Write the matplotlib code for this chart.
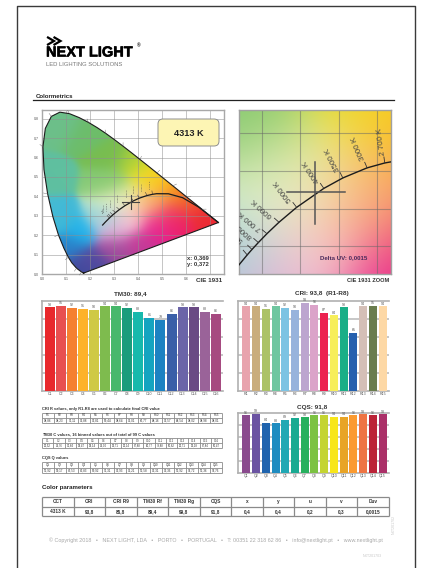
import numpy as np
import matplotlib
matplotlib.use('Agg')
import matplotlib.pyplot as plt
import matplotlib.patheffects as pe
from matplotlib.patches import FancyBboxPatch, Polygon

plt.rcParams['font.family'] = ['Liberation Sans', 'DejaVu Sans']

W, H = 422, 568

# spectral locus and planckian locus read as x, y chromaticity
locus_x = [.1741, .1714, .1644, .1566, .1440, .1241, .1096, .0913, .0687, .0454, .0235, .0082, .0039, .0139,
           .0389, .0743, .1142, .1547, .1929, .2296, .2658, .3016, .3373, .3731, .4087, .4441, .4788, .5125,
           .5448, .5752, .6029, .6270, .6658, .6915, .7079, .7260, .7347]
locus_y = [.0050, .0051, .0109, .0177, .0297, .0578, .0868, .1327, .2007, .2950, .4127, .5384, .6548, .7502,
           .8120, .8338, .8262, .8059, .7816, .7543, .7243, .6923, .6589, .6245, .5896, .5547, .5202, .4866,
           .4544, .4242, .3965, .3725, .3340, .3083, .2920, .2740, .2653]
planck_x = [.7347, .6528, .5857, .5267, .4770, .4599, .4369, .4053, .3805, .3451, .3221, .3064, .2952, .2869, .2807, .2637, .2525]
planck_y = [.2653, .3444, .3931, .4133, .4137, .4106, .4041, .3907, .3768, .3516, .3318, .3166, .3048, .2956, .2884, .2674, .2523]

cct_labels = ['2 700 K', '3000 K', '3500 K', '4000 K', '5000 K', '6000 K', '7 000 K', '8000 K', '9000', '1']
cct_x = [.4599, .4369, .4053, .3805, .3451, .3221, .3064, .2952, .2869, .2807]
cct_y = [.4106, .4041, .3907, .3768, .3516, .3318, .3166, .3048, .2956, .2884]
cct_rot = [98, 113, 117, 124, 127, 138, 140, 138, 135, 130]

point_x, point_y = 0.369, 0.372

# colour field anchors picked off the diagram
anchor_x = [.08, .03, .03, .18, .28, .38, .30, .42, .47, .52, .57, .62, .68, .52, .47, .55, .40, .30, .20, .17,
            .11, .16, .07, .26, .33, .37, .30, .41, .45, .27, .30, .30, .35, .40, .46, .46, .46, .38, .27, .33]
anchor_y = [.76, .50, .30, .72, .60, .57, .47, .52, .49, .44, .40, .36, .30, .32, .24, .28, .17, .14, .06, .02,
            .14, .22, .28, .30, .37, .28, .22, .37, .36, .47, .42, .36, .40, .44, .47, .38, .29, .32, .28, .27]
anchor_c = ['#6cc08a', '#5fc0a0', '#46bcd4', '#6dbd6a', '#78bd50', '#a8cf3c', '#88c860', '#e4e025', '#fbd020',
            '#f8a420', '#f47c24', '#f15030', '#ec2a34', '#f0505c', '#e91e8c', '#ec1e6a', '#c43a98', '#a04a9c',
            '#5a4aa0', '#3a4a9c', '#2a7fc8', '#22b5ec', '#40b8d8', '#a0dcc8', '#f0f2d8', '#f8cfd8', '#e4a8d4',
            '#fbd8a8', '#f9a868', '#82c97a', '#c4e098', '#dcf0d0', '#e8ecb0', '#eee860', '#fcc820', '#f8a060',
            '#ec4a98', '#f9c8b0', '#a8d0e8', '#ecb8d8']

# bar charts
tm30_labels = ['C%d' % i for i in range(1, 17)]
tm30_values = [93, 95, 92, 91, 90, 94, 94, 92, 88, 81, 79, 86, 93, 93, 88, 86]
tm30_colors = ['#e8282c', '#e84f50', '#f58030', '#fdb22a', '#cfc945', '#7ebb4e', '#47b86c', '#1a9c7c', '#17b9ac',
               '#14a4c0', '#1c82c2', '#3a5fa8', '#6b64a8', '#6a4a84', '#9a6399', '#a64a80']

cri_labels = ['R%d' % i for i in range(1, 16)]
cri_values = [94, 94, 91, 94, 92, 90, 98, 96, 87, 84, 93, 65, 94, 95, 94]
cri_colors = ['#e8a3ad', '#c9ad7c', '#acc267', '#6fc6a0', '#7cc3e3', '#97b3dc', '#bca5cf', '#dba3c9', '#ec2150',
              '#f7ee5a', '#1aae87', '#2660ae', '#d4bfb7', '#6a7d4e', '#fdd8a5']

cqs_labels = ['Q%d' % i for i in range(1, 16)]
cqs_values = [96, 99, 84, 83, 89, 92, 93, 96, 96, 94, 94, 96, 98, 96, 98]
cqs_colors = ['#8a4a8e', '#6b54a2', '#2064ae', '#1f8cc0', '#20a8b4', '#1aaa92', '#27b05e', '#7cc242', '#c4d432',
              '#f8e61a', '#e8a426', '#fb9a30', '#ee7444', '#bb2438', '#ab3068']

# small tables
cri_table = ['94,86', '94,23', '91,11', '96,88', '92,81', '89,44', '98,64', '96,01', '86,77', '84,16', '92,57',
             '64,54', '94,02', '94,98', '94,01']
tm30_table = ['92,52', '94,76', '91,84', '90,47', '90,14', '94,00', '93,71', '92,14', '87,88', '80,77', '78,88',
              '85,82', '92,71', '93,18', '87,84', '85,47']
cqs_table = ['95,92', '99,17', '83,53', '82,83', '89,92', '91,31', '92,93', '96,21', '95,58', '93,31', '93,36',
             '95,92', '97,72', '95,36', '97,76']

param_head = ['CCT', 'CRI', 'CRI R9', 'TM30 Rf', 'TM30 Rg', 'CQS', 'x', 'y', 'u', 'v', 'Duv']
param_vals = ['4313 K', '93,8', '86,8', '89,4', '99,8', '91,8', '0,4', '0,4', '0,2', '0,3', '0,0015']

fig = plt.figure(figsize=(W / 100, H / 100), dpi=100)
page = fig.add_axes([0, 0, 1, 1])
page.set_xlim(0, W)
page.set_ylim(H, 0)
page.axis('off')
page.set_zorder(5)


def box(l, t, r, b):
    return fig.add_axes([l / W, 1 - b / H, (r - l) / W, (b - t) / H])


def colour_field(xlim, ylim, sigma, n=260):
    xs = np.linspace(xlim[0], xlim[1], n)
    ys = np.linspace(ylim[0], ylim[1], n)
    gx, gy = np.meshgrid(xs, ys)
    ax_, ay_ = np.array(anchor_x), np.array(anchor_y)
    cols = np.array([matplotlib.colors.to_rgb(c) for c in anchor_c])
    d = (gx[..., None] - ax_) ** 2 + (gy[..., None] - ay_) ** 2
    w = np.exp(-d / (2 * sigma ** 2)) + 1e-30
    return (w[..., None] * cols).sum(axis=2) / w.sum(axis=2)[..., None]


def page_table(left, right, top, bottom, rows, size, lw=0.6):
    n = len(rows[0])
    xs = np.linspace(left, right, n + 1)
    ys = np.linspace(top, bottom, len(rows) + 1)
    for x in xs:
        page.plot([x, x], [top, bottom], color='#8a8a8a', lw=lw, solid_capstyle='butt')
    for y in ys:
        page.plot([left, right], [y, y], color='#8a8a8a', lw=lw, solid_capstyle='butt')
    for j, row in enumerate(rows):
        for i, s in enumerate(row):
            page.text((xs[i] + xs[i + 1]) / 2, (ys[j] + ys[j + 1]) / 2, s, ha='center', va='center',
                      fontsize=size, color='#333333', fontweight='bold' if size > 3 else 'normal')


def bar_chart(rect, labels, values, colors, width, title, title_x, title_y, xpad):
    ax = box(*rect)
    x = np.arange(len(values))
    ax.bar(x, values, width=width, color=colors, zorder=3)
    ax.set_xlim(-0.5 - xpad, len(values) - 0.5 + 0.15)
    ax.set_ylim(0, 100)
    ax.set_yticks([20, 40, 60, 80])
    ax.set_yticklabels([])
    ax.grid(axis='y', color='#bdbdbd', lw=1.2, zorder=0)
    ax.set_xticks(x)
    ax.set_xticklabels(labels, fontsize=2.6, color='#555555')
    ax.tick_params(length=0, pad=0.8)
    for s in ['left', 'bottom', 'top']:
        ax.spines[s].set_color('#b0b0b0')
        ax.spines[s].set_linewidth(1.2)
    ax.spines['right'].set_visible(False)
    for xi, v in zip(x, values):
        ax.text(xi, v + 0.8, str(v), ha='center', va='bottom', fontsize=2.6, color='#555555', zorder=4, clip_on=False)
    page.text(title_x, title_y, title, ha='center', va='center', fontsize=4.6, fontweight='bold', color='#333333')


# page frame and header
page.plot([16.5, 16.5, 415, 415], [H, 6, 6, H], color='#3a3a3a', lw=1.0)
for shift in [0, 6.5]:
    page.plot(np.array([48, 54, 48]) + shift, [37.5, 41, 44.5], color='black', lw=1.6, solid_joinstyle='miter')
logo = page.text(46, 52.5, 'NEXT LIGHT', fontsize=10.5, fontweight='bold', color='black', va='center', ha='left')
logo.set_path_effects([pe.withStroke(linewidth=0.4, foreground='black')])
page.text(136.5, 45.5, '®', fontsize=3.5, fontweight='bold', color='black', va='center', ha='left')
page.text(46, 64, 'LED LIGHTING SOLUTIONS', fontsize=4.2, color='#777777', va='center', ha='left')
page.text(36, 96, 'Colormetrics', fontsize=4.3, fontweight='bold', color='#222222', va='center', ha='left')
page.plot([33, 394], [100, 100], color='#222222', lw=0.9)

# CIE 1931 diagram
cie = box(42, 110, 224, 274)
xlim1, ylim1 = (0, 0.758), (0, 0.845)
img = cie.imshow(colour_field(xlim1, ylim1, 0.045), origin='lower', extent=[*xlim1, *ylim1], aspect='auto',
                 interpolation='bilinear', zorder=1)
outline = Polygon(np.column_stack([locus_x, locus_y]), closed=True, transform=cie.transData, fc='none', ec='none')
cie.add_patch(outline)
img.set_clip_path(outline)
cie.set_xlim(*xlim1)
cie.set_ylim(*ylim1)
xt = np.arange(0, 0.75, 0.1)
cie.set_xticks(xt)
cie.set_yticks(np.arange(0, 0.85, 0.1))
cie.set_xticklabels(['%.1f' % v if v < 0.65 else '' for v in xt], fontsize=2.6, color='#555555')
cie.set_yticklabels(['%.1f' % v for v in np.arange(0, 0.85, 0.1)], fontsize=2.6, color='#555555')
cie.tick_params(length=0, pad=2)
cie.grid(color='#8f8f8f', lw=0.6, alpha=0.6, zorder=2)
for s in cie.spines.values():
    s.set_color('#a8a8a8')
    s.set_linewidth(1.0)
cie.plot(locus_x + locus_x[:1], locus_y + locus_y[:1], color='#1c1c1c', lw=0.8, zorder=4)
cie.plot(planck_x, planck_y, color='#1c1c1c', lw=0.9, zorder=4)
for xv, yv, lab, rot in zip(cct_x, cct_y, cct_labels, cct_rot):
    dx, dy = np.cos(np.radians(rot)), np.sin(np.radians(rot))
    cie.plot([xv, xv + dx * 0.015], [yv, yv + dy * 0.018], color='#333333', lw=0.35, zorder=4)
    cie.text(xv + dx * 0.045, yv + dy * 0.05, lab, rotation=90, ha='center', va='center', fontsize=1.7,
             color='#444444', zorder=5)
cie.plot([point_x - 0.035, point_x + 0.035], [point_y, point_y], color='#444444', lw=0.8, zorder=5)
cie.plot([point_x, point_x], [point_y - 0.035, point_y + 0.035], color='#444444', lw=0.8, zorder=5)
for xv, yv in zip(locus_x[2:33:2], locus_y[2:33:2]):
    ox, oy = xv - 0.33, yv - 0.33
    r = np.hypot(ox, oy)
    cie.plot([xv, xv + ox / r * 0.018], [yv, yv + oy / r * 0.018], color='#666666', lw=0.3, zorder=4, clip_on=False)

page.add_patch(FancyBboxPatch((160, 121), 57, 23, boxstyle='round,pad=2,rounding_size=5', fc='#fdf5b4',
                              ec='#8f8f8f', lw=0.7, zorder=10))
page.text(189, 133, '4313 K', fontsize=6.6, fontweight='bold', color='#222222', ha='center', va='center', zorder=11)
page.text(187, 258, 'x: 0,369', fontsize=4.2, fontweight='bold', color='#333333', va='center')
page.text(187, 264.5, 'y: 0,372', fontsize=4.2, fontweight='bold', color='#333333', va='center')
page.text(222, 280, 'CIE 1931', fontsize=4.5, fontweight='bold', color='#333333', ha='right', va='center')

# zoomed diagram
zoom = box(239, 110, 391, 274)
xlim2, ylim2 = (0.270, 0.468), (0.263, 0.481)
zoom.imshow(colour_field(xlim2, ylim2, 0.045), origin='lower', extent=[*xlim2, *ylim2], aspect='auto',
            interpolation='bilinear', zorder=1)
zoom.set_xlim(*xlim2)
zoom.set_ylim(*ylim2)
zoom.set_xticks([.30, .35, .40, .45])
zoom.set_yticks([.30, .35, .40, .45])
zoom.set_xticklabels([])
zoom.set_yticklabels([])
zoom.tick_params(length=0)
zoom.grid(color='#666666', lw=0.8, alpha=0.5, zorder=2)
for s in zoom.spines.values():
    s.set_color('#a0a0a0')
    s.set_linewidth(1.0)
zoom.plot(planck_x, planck_y, color='#1c1c1c', lw=1.0, zorder=4)
for xv, yv, lab, rot in zip(cct_x, cct_y, cct_labels, cct_rot):
    dx, dy = np.cos(np.radians(rot)), np.sin(np.radians(rot))
    zoom.plot([xv, xv + dx * 0.008], [yv, yv + dy * 0.008], color='#333333', lw=0.6, zorder=4)
    zoom.text(xv + dx * 0.028, yv + dy * 0.028, lab, rotation=rot, rotation_mode='anchor', ha='center',
              va='center', fontsize=5.8, color='#444444', zorder=5, clip_on=True)
zoom.plot([point_x - 0.037, point_x + 0.039], [point_y, point_y], color='#555555', lw=1.1, zorder=5)
zoom.plot([point_x, point_x], [point_y - 0.042, point_y + 0.040], color='#555555', lw=1.1, zorder=5)
page.text(344, 258, 'Delta UV: 0,0015', fontsize=4.4, fontweight='bold', color='#4a2a5a', ha='center', va='center')
page.text(389, 280, 'CIE 1931 ZOOM', fontsize=4.1, fontweight='bold', color='#333333', ha='right', va='center')

# bars
bar_chart((42, 301, 223, 391), tm30_labels, tm30_values, tm30_colors, 0.9, 'TM30: 89,4', 130, 294, 0.2)
bar_chart((238, 301, 389, 391), cri_labels, cri_values, cri_colors, 0.82, 'CRI: 93,8  (R1-R8)', 322, 294, 0.35)
bar_chart((238, 413, 389, 473), cqs_labels, cqs_values, cqs_colors, 0.82, 'CQS: 91,8', 312, 408, 0.35)

# small tables
page.text(42, 409, 'CRI R values, only R1-R8 are used to calculate final CRI value', fontsize=2.9,
          fontweight='bold', color='#333333', va='center')
page_table(42, 222, 413, 423, [cri_labels, cri_table], 2.2)
page.text(42, 434, 'TM30 C values, 16 binned values out of total of 99 C values', fontsize=2.9,
          fontweight='bold', color='#333333', va='center')
page_table(42, 222, 438, 448, [tm30_labels, tm30_table], 2.0)
page.text(42, 458, 'CQS Q values', fontsize=2.9, fontweight='bold', color='#333333', va='center')
page_table(42, 222, 462, 473, [cqs_labels, cqs_table], 2.2)

# colour parameters
page.text(42, 487, 'Color parameters', fontsize=4.4, fontweight='bold', color='#222222', va='center')
page_table(42, 389, 497, 516, [param_head, param_vals], 3.4, lw=0.9)

# footer
page.text(215.5, 540, '© Copyright 2018   •   NEXT LIGHT, LDA   •   PORTO   •   PORTUGAL   •   T: 00351 22 318 62 86'
          '   •   info@nextlight.pt   •   www.nextlight.pt', fontsize=3.9, color='#a8a8a8', ha='center', va='center')
page.text(394, 524, 'NXT201702', fontsize=2.6, color='#c8c8c8', rotation=90, ha='center', va='center')
page.text(372, 556, 'NXT201703', fontsize=2.6, color='#c8c8c8', ha='center', va='center')

fig.savefig('out.png', dpi=100)
